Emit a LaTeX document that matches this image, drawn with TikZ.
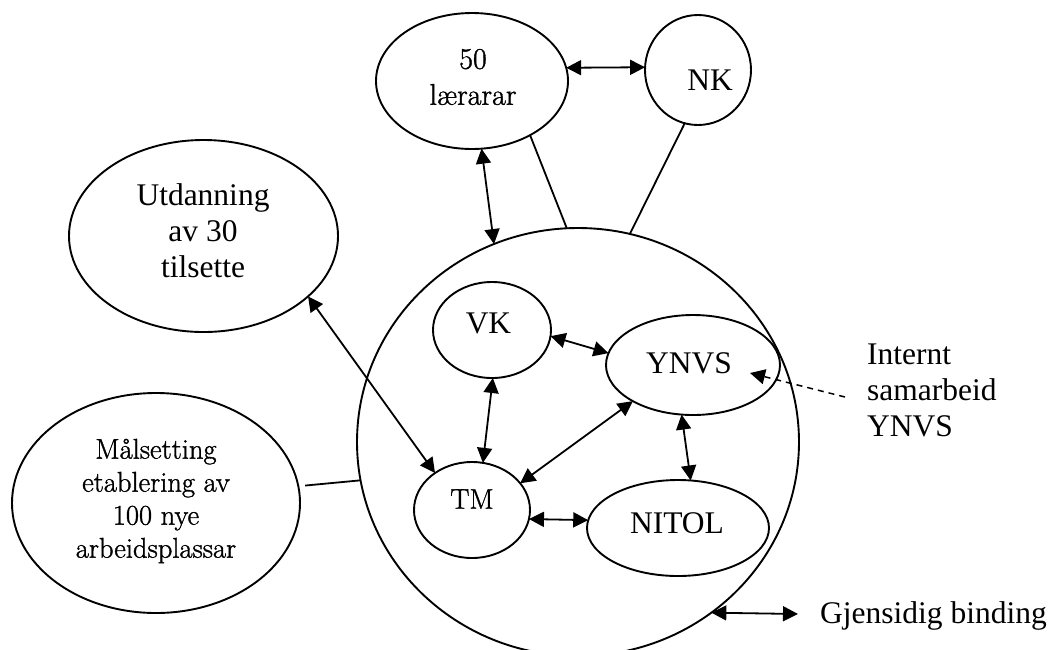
\documentclass[tikz,border=0pt]{standalone}
\usepackage{fontspec}
\newfontfamily\tnr{Liberation Serif}
\newfontfamily\garlike{Latin Modern Roman}[FakeBold=1.2]
\usetikzlibrary{shapes.geometric,arrows.meta,calc}
\begin{document}
\begin{tikzpicture}[x=1pt,y=-1pt,
  ell/.style={draw, ellipse, line width=1.9pt, inner sep=0pt, outer sep=0pt},
  tt/.style={font=\tnr\fontsize{31.5}{36}\selectfont, align=center, inner sep=0pt},
  gt/.style={font=\garlike\fontsize{28.5}{33}\selectfont, align=center, inner sep=0pt},
  con/.style={line width=1.8pt},
  tip/.tip={Triangle[length=15pt,width=15pt]},
  bi/.style={con, tip-tip},
]
\useasboundingbox[fill=white] (0,0) rectangle (1053,649);

% ellipses
\node[ell, minimum width=442pt, minimum height=428pt] (B) at (578,442) {};
\node[ell, minimum width=192pt, minimum height=136pt] (L) at (472,81) {};
\node[ell, minimum width=106pt, minimum height=110pt] (NK) at (698,70) {};
\node[ell, minimum width=269pt, minimum height=192pt] (U) at (203.5,236) {};
\node[ell, minimum width=288pt, minimum height=220pt] (M) at (156,503) {};
\node[ell, minimum width=118pt, minimum height=96pt] (V) at (492,330) {};
\node[ell, minimum width=174pt, minimum height=100pt] (Y) at (693,365) {};
\node[ell, minimum width=116pt, minimum height=96pt] (T) at (472,510) {};
\node[ell, minimum width=182pt, minimum height=96pt] (N) at (678,528) {};

% texts
\node[gt, font=\garlike\fontsize{30}{36}\selectfont] (Lt) at (473,77) {50\\lærarar};
\node[tt] (NKt) at (710,80) {NK};
\node[tt] (Ut) at (203,231) {Utdanning\\av 30\\tilsette};
\node[gt] (Mt) at (156,501) {Målsetting\\etablering av\\100 nye\\arbeidsplassar};
\node[tt] (Vt) at (488.5,323) {VK};
\node[tt] (Yt) at (689,363) {YNVS};
\node[gt] (Tt) at (472,499) {TM};
\node[tt] (Nt) at (677,523) {NITOL};
\node[tt, align=left, anchor=west] (It) at (867,390) {Internt\\samarbeid\\YNVS};
\node[tt, anchor=base west] (Gt) at (820,623) {Gjensidig binding};

% connectors
\draw[bi] (L.8) -- (NK.177.8);
\draw[bi] (L.-82) -- (B.113.8);
\draw[con] (L.-43) -- (B.93.7);
\draw[con] (NK.-104.8) -- (B.76.7);
\draw[con] ([xshift=7pt]M.7.5) -- (B.-170.2);
\draw[bi] (U.-30.5) -- (T.135.7);
\draw[bi] (V.-6.8) -- (Y.172);
\draw[bi] (V.-89) -- (T.77);
\draw[bi] (T.29.2) -- (Y.211.2);
\draw[bi] (T.-9.6) -- (N.175);
\draw[bi] (Y.-103.8) -- (N.75.7);

\coordinate (dsrc) at (845,397);
\coordinate (dtip) at (750,373);
\draw[con, line width=1.5pt, dash pattern=on 6pt off 5pt, -tip] (dsrc) -- (dtip);

\coordinate (gjl) at (798,614);
\draw[bi] (B.-52.5) -- (gjl);
\end{tikzpicture}
\end{document}
